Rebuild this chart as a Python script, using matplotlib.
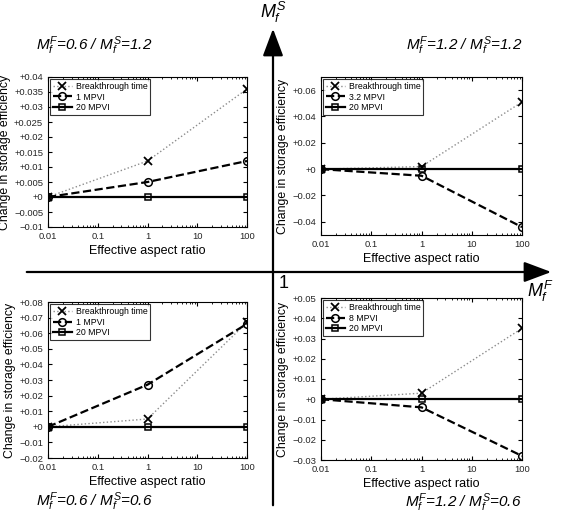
import matplotlib
matplotlib.use('Agg')
import matplotlib.pyplot as plt
import numpy as np
from matplotlib.patches import FancyArrowPatch
from matplotlib.ticker import FuncFormatter, FixedLocator

plt.rcParams['font.family'] = ['Liberation Sans', 'DejaVu Sans']
plt.rcParams['mathtext.fontset'] = 'custom'
plt.rcParams['mathtext.it'] = 'Liberation Sans:italic'
plt.rcParams['mathtext.rm'] = 'Liberation Sans'
plt.rcParams['axes.unicode_minus'] = False

# 数据
aspect = [0.01, 1, 100]

tl_break = [0, 0.012, 0.036]
tl_mid = [0, 0.005, 0.012]
tr_break = [0, 0.002, 0.051]
tr_mid = [0, -0.005, -0.044]
bl_break = [0, 0.005, 0.067]
bl_mid = [0, 0.027, 0.066]
br_break = [0, 0.003, 0.035]
br_mid = [0, -0.004, -0.028]
late = [0, 0, 0]

mid_labels = ['1 MPVI', '3.2 MPVI', '1 MPVI', '8 MPVI']
titles = ['$M_f^F$=0.6 / $M_f^S$=1.2', '$M_f^F$=1.2 / $M_f^S$=1.2',
          '$M_f^F$=0.6 / $M_f^S$=0.6', '$M_f^F$=1.2 / $M_f^S$=0.6']

tl_yticks = [-0.01, -0.005, 0, 0.005, 0.01, 0.015, 0.02, 0.025, 0.03, 0.035, 0.04]
tr_yticks = [-0.04, -0.02, 0, 0.02, 0.04, 0.06]
bl_yticks = [-0.02, -0.01, 0, 0.01, 0.02, 0.03, 0.04, 0.05, 0.06, 0.07, 0.08]
br_yticks = [-0.03, -0.02, -0.01, 0, 0.01, 0.02, 0.03, 0.04, 0.05]

W, H = 568, 514
fig = plt.figure(figsize=(W / 100, H / 100), dpi=100)


def px_axes(l, t, r, b):
    return fig.add_axes([l / W, 1 - b / H, (r - l) / W, (b - t) / H])


def fmt(v, pos):
    if abs(v) < 1e-12:
        return '+0'
    s = f'{v:+g}'
    return s.replace('-', '\u2212')


panels = [
    (px_axes(48, 77, 247, 227), tl_break, tl_mid, mid_labels[0], (-0.01, 0.04), tl_yticks),
    (px_axes(321, 77, 522, 235), tr_break, tr_mid, mid_labels[1], (-0.05, 0.07), tr_yticks),
    (px_axes(48, 302, 247, 458), bl_break, bl_mid, mid_labels[2], (-0.02, 0.08), bl_yticks),
    (px_axes(321, 298, 522, 460), br_break, br_mid, mid_labels[3], (-0.03, 0.05), br_yticks),
]

for ax, brk, mid, lab, ylim, yt in panels:
    ax.plot(aspect, brk, ':', color='0.55', lw=1, marker='x', ms=6, mec='k', mew=1.3,
            label='Breakthrough time')
    ax.plot(aspect, mid, '--', color='k', lw=1.6, marker='o', ms=5.5, mfc='none', mec='k',
            mew=1.1, label=lab)
    ax.plot(aspect, late, '-', color='k', lw=1.6, marker='s', ms=4.5, mfc='none', mec='k',
            mew=1.1, label='20 MPVI')
    ax.set_xscale('log')
    ax.set_xlim(0.01, 100)
    ax.set_ylim(*ylim)
    ax.set_xticks([0.01, 0.1, 1, 10, 100])
    ax.set_xticklabels(['0.01', '0.1', '1', '10', '100'])
    ax.yaxis.set_major_locator(FixedLocator(yt))
    ax.yaxis.set_major_formatter(FuncFormatter(fmt))
    ax.tick_params(which='both', direction='in', top=True, right=True, labelsize=6.8,
                   labelcolor='0.15')
    ax.tick_params(which='major', length=3)
    ax.tick_params(which='minor', length=1.5)
    ax.set_xlabel('Effective aspect ratio', fontsize=9, labelpad=3)
    ax.set_ylabel('Change in storage efficiency', fontsize=8.8, labelpad=2)
    for sp in ax.spines.values():
        sp.set_linewidth(0.8)
    leg = ax.legend(loc='upper left', fontsize=6.3, frameon=True, fancybox=False,
                    edgecolor='k', handlelength=2.2, handletextpad=0.4,
                    borderpad=0.3, labelspacing=0.2, borderaxespad=0.25)
    leg.get_frame().set_linewidth(0.8)

# 面板标题
fig.text(36 / W, 1 - 46 / H, titles[0], fontsize=11, style='italic', va='center', ha='left')
fig.text(522 / W, 1 - 46 / H, titles[1], fontsize=11, style='italic', va='center', ha='right')
fig.text(36 / W, 1 - 502 / H, titles[2], fontsize=11, style='italic', va='center', ha='left')
fig.text(522 / W, 1 - 503 / H, titles[3], fontsize=11, style='italic', va='center', ha='right')

# 大坐标箭头
fig.add_artist(FancyArrowPatch((273 / W, 1 - 508 / H), (273 / W, 1 - 26 / H),
                               transform=fig.transFigure, arrowstyle='-|>,head_length=1.2,head_width=0.45',
                               mutation_scale=14, lw=1.6, color='k'))
fig.add_artist(FancyArrowPatch((24 / W, 1 - 272 / H), (554 / W, 1 - 272 / H),
                               transform=fig.transFigure, arrowstyle='-|>,head_length=1.2,head_width=0.45',
                               mutation_scale=14, lw=1.6, color='k'))
fig.text(273 / W, 1 - 12 / H, '$M_f^S$', fontsize=13, ha='center', va='center')
fig.text(540 / W, 1 - 291 / H, '$M_f^F$', fontsize=13, ha='center', va='center')
fig.text(279 / W, 1 - 283 / H, '1', fontsize=13, ha='left', va='center')

fig.savefig('out.png', dpi=100)
